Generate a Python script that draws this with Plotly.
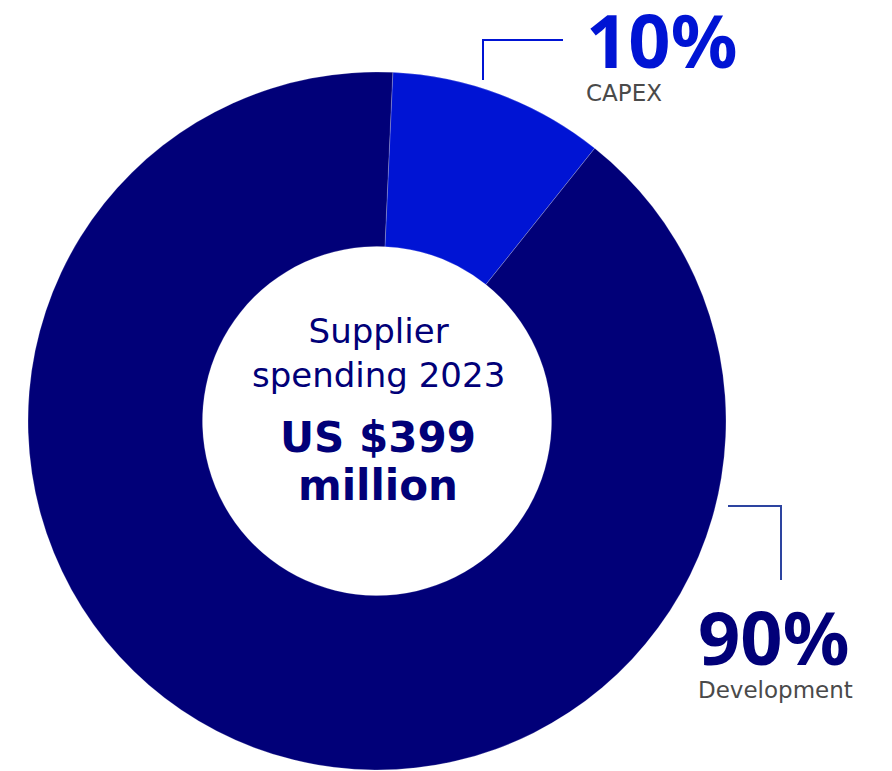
import plotly.graph_objects as go

# Supplier spending split, 2023
segments = ["CAPEX", "Development"]
shares = [10, 90]
segment_colors = ["#0014D4", "#010078"]
pct_labels = ["10%", "90%"]
center_lines = ["Supplier", "spending 2023"]
total_lines = ["US $399", "million"]

W, H = 892, 771
BODY_FONT = "DejaVu Sans"
PCT_FONT = "Noto Sans"


def px(x):
    return x / W


def py(y):
    return 1 - y / H


fig = go.Figure()
fig.add_trace(go.Pie(
    labels=segments,
    values=shares,
    hole=0.5,
    sort=False,
    direction="clockwise",
    rotation=2.6,
    marker=dict(colors=segment_colors, line=dict(color="rgba(255,255,255,0.35)", width=0.6)),
    textinfo="none",
    hoverinfo="label+percent",
    showlegend=False,
    domain=dict(x=[px(28), px(726)], y=[py(770), py(72)]),
))

navy = segment_colors[1]

# Centre text inside the hole
fig.add_annotation(x=px(378), y=py(397), xref="paper", yref="paper",
                   text="<br>".join(center_lines),
                   showarrow=False, xanchor="center", yanchor="bottom", align="center",
                   font=dict(family=BODY_FONT, size=34, color=navy))
fig.add_annotation(x=px(378), y=py(512), xref="paper", yref="paper",
                   text="<br>".join(f"<span style='font-size:42px'><b>{t}</b></span>" for t in total_lines),
                   showarrow=False, xanchor="center", yanchor="bottom", align="center",
                   font=dict(family=BODY_FONT, size=37, color=navy))

# Outside callouts: big percentage over the segment name, one text block each
callouts = [
    (pct_labels[0], segments[0], segment_colors[0], 588, 108),
    (pct_labels[1], segments[1], segment_colors[1], 700, 705),
]
for pct, name, col, x0, ybottom in callouts:
    block = (f"<span style='font-family:{PCT_FONT};font-size:74px;color:{col}'><b>{pct}</b></span>"
             f"<br><span style='font-size:23px'>{name}</span>")
    fig.add_annotation(x=px(x0 - 4), y=py(ybottom), xref="paper", yref="paper", text=block,
                       showarrow=False, xanchor="left", yanchor="bottom", align="left",
                       font=dict(family=BODY_FONT, size=25, color="#4a4a4a"))

# Elbow leader lines
fig.add_shape(type="path", xref="paper", yref="paper",
              path=f"M {px(483)} {py(80)} L {px(483)} {py(40)} L {px(563)} {py(40)}",
              line=dict(color=segment_colors[0], width=2))
fig.add_shape(type="path", xref="paper", yref="paper",
              path=f"M {px(728)} {py(506)} L {px(781)} {py(506)} L {px(781)} {py(580)}",
              line=dict(color="#2D44A0", width=2))

fig.update_layout(
    width=W, height=H,
    margin=dict(l=0, r=0, t=0, b=0),
    paper_bgcolor="white",
    plot_bgcolor="white",
)
fig.write_html("out.html")
